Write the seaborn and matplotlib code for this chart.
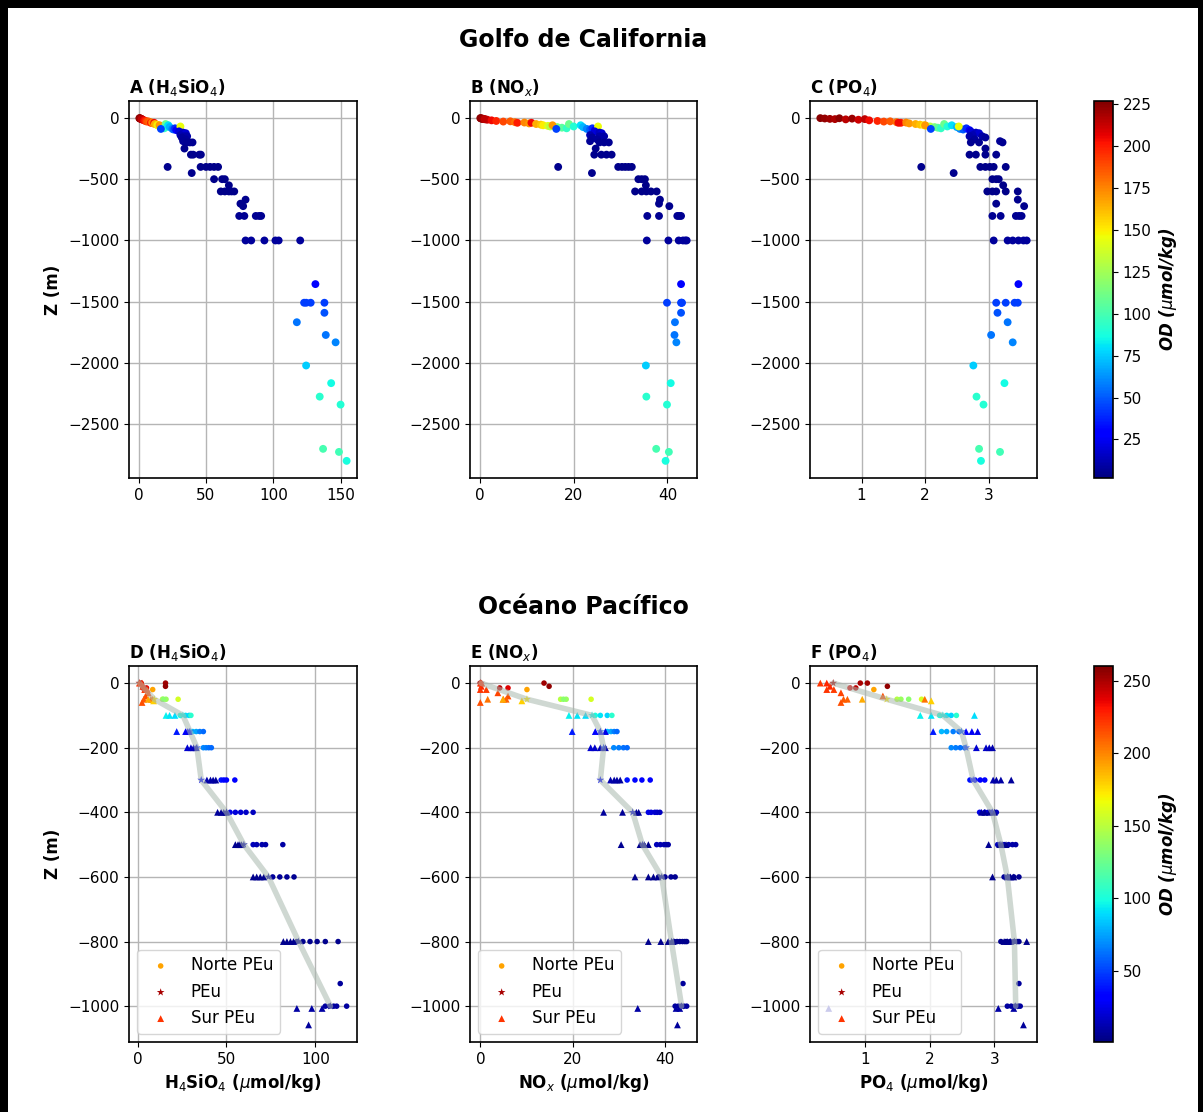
import matplotlib
matplotlib.use("Agg")
import numpy as np
import pandas as pd
import matplotlib.pyplot as plt
import seaborn as sns
from matplotlib.colors import Normalize
from matplotlib.cm import ScalarMappable
from matplotlib.lines import Line2D

# ---------------- Golfo de California ----------------
# surface layer
gs_z = [-2, -5, -8, -10, -3, -12, -6, -15, -10, -20, -25, -30, -28, -35, -40, -38, -45, -40,
        -50, -55, -60, -65, -70, -75, -80, -60, -85, -50, -70, -60, -75, -90, -95, -85, -100, -70, -90]
gs_od = [225, 222, 220, 218, 224, 215, 221, 212, 214, 205, 198, 190, 185, 180, 200, 175, 170, 205,
         165, 160, 150, 140, 130, 115, 105, 170, 95, 110, 90, 80, 70, 60, 50, 40, 30, 145, 45]
gs_si = [0.8, 1.2, 1.6, 2.0, 0.5, 2.5, 1.0, 3.0, 2.2, 4.0, 5.0, 6.0, 7.0, 8.5, 9.0, 10.0, 11.0, 11.5,
         12.0, 13.5, 14.0, 15.0, 16.0, 17.0, 18.0, 15.5, 19.0, 20.0, 21.0, 22.0, 23.0, 25.0, 26.0, 27.0, 28.0, 31.0, 16.5]
gs_nox = [0.1, 0.3, 0.5, 0.8, 0.2, 1.2, 0.6, 1.6, 1.0, 2.5, 3.5, 5.0, 6.5, 7.5, 8.0, 9.5, 10.5, 11.0,
          12.0, 13.0, 13.5, 14.5, 15.0, 16.5, 17.5, 15.5, 18.5, 19.0, 20.0, 21.5, 22.0, 22.8, 23.5, 24.0, 24.5, 25.2, 16.3]
gs_po4 = [0.35, 0.42, 0.50, 0.58, 0.65, 0.75, 0.85, 0.95, 1.05, 1.12, 1.25, 1.35, 1.45, 1.55, 1.62, 1.70, 1.75, 1.58,
          1.85, 1.92, 1.98, 2.02, 2.08, 2.15, 2.20, 2.00, 2.25, 2.30, 2.35, 2.42, 2.50, 2.55, 2.60, 2.65, 2.70, 2.53, 2.09]
# intermediate layer
gm_z = [-110, -120, -125, -140, -150, -150, -160, -175, -190, -200, -200, -200, -250,
        -300, -300, -300, -300, -400, -400, -400, -400, -400, -400, -450,
        -500, -500, -500, -550, -600, -600, -600, -600, -600, -667, -700, -720,
        -800, -800, -800, -800, -800, -1000, -1000, -1000, -1000, -1000, -1000]
gm_od = [20, 15, 18, 12, 10, 10, 8, 8, 7, 6, 6, 6, 5,
         5, 5, 5, 5, 5, 4, 4, 4, 4, 4, 5,
         4, 4, 4, 4, 4, 4, 4, 4, 4, 5, 5, 5,
         6, 6, 6, 6, 6, 8, 8, 8, 8, 8, 8]
gm_si = [30, 33, 35, 31, 34, 36, 32, 35, 33, 36, 38, 40, 34,
         38.8, 40.5, 46.2, 45, 21.5, 46, 50, 53, 56, 59, 39.4,
         56, 62, 64, 67, 61, 64, 67, 71, 69, 79.4, 75.6, 77.6,
         74.7, 78.5, 87, 89.5, 91, 79.4, 83.6, 93.4, 101.6, 104, 120]
gm_nox = [24.5, 25.5, 26.0, 23.5, 25.5, 26.5, 24.0, 25.0, 23.5, 25.5, 26.5, 27.5, 24.7,
          25.9, 27.0, 28.1, 24.4, 16.7, 29.5, 30.3, 31.0, 31.7, 32.4, 23.9,
          33.8, 34.5, 35.2, 35.4, 33.1, 34.5, 35.5, 36.5, 37.7, 38.4, 38.2, 40.4,
          35.7, 38.2, 42.1, 42.9, 42.5, 35.6, 40.2, 42.4, 43.3, 44.1, 43.8]
gm_po4 = [2.72, 2.80, 2.85, 2.75, 2.70, 2.90, 2.95, 2.78, 3.18, 2.85, 3.22, 2.72, 2.95,
          2.70, 2.80, 2.95, 3.12, 1.94, 2.87, 2.95, 3.02, 3.08, 3.27, 2.45,
          3.06, 3.12, 3.16, 3.23, 2.98, 3.06, 3.12, 3.27, 3.46, 3.46, 3.12, 3.56,
          3.06, 3.19, 3.43, 3.48, 3.52, 3.08, 3.30, 3.38, 3.47, 3.60, 3.55]
# deep layer
gd_z = [-1356, -1508, -1508, -1508, -1508, -1590, -1667, -1771, -1831, -2020, -2164, -2274, -2339, -2700, -2725, -2798]
gd_od = [30, 44, 44, 44, 44, 48, 56, 56, 60, 75, 86, 92, 90, 100, 98, 88]
gd_si = [131.3, 122.9, 124.5, 127.8, 138.0, 138.0, 117.5, 139.0, 146.3, 124.4, 143.0, 134.5, 150.0, 137.0, 148.8, 154.5]
gd_nox = [42.9, 39.9, 42.9, 43.0, 43.1, 42.9, 41.6, 41.5, 41.9, 35.4, 40.7, 35.5, 39.9, 37.6, 40.3, 39.6]
gd_po4 = [3.47, 3.12, 3.27, 3.41, 3.46, 3.14, 3.30, 3.04, 3.38, 2.76, 3.25, 2.81, 2.92, 2.85, 3.18, 2.88]

# ---------------- Oceano Pacifico ----------------
norte_z = [-20, 0, -10, -15, -15, 0, -50, -50, -50, -50,
           -100, -100, -100, -100, -150, -150, -150, -150, -200, -200, -200, -200,
           -300, -300, -300, -300, -400, -400, -400, -400, -400,
           -500, -500, -500, -500, -500, -600, -600, -600, -600,
           -800, -800, -800, -800, -800, -800, -930, -1000, -1000, -1000, -1000, -1000]
norte_od = [192, 252, 255, 246, 238, 250, 148, 140, 158, 135,
            100, 92, 88, 105, 80, 75, 65, 60, 68, 65, 62, 60,
            38, 35, 32, 30, 25, 22, 20, 18, 16,
            15, 13, 12, 11, 10, 8, 7, 7, 6,
            5, 5, 5, 5, 5, 5, 8, 9, 9, 9, 9, 9]
norte_si = [8.5, 15.7, 15.7, 3.0, 5.0, 2.0, 14.0, 16.0, 22.8, 14.5,
            24.0, 27.0, 29.0, 30.0, 31.0, 33.0, 35.0, 37.0, 37.0, 38.5, 40.0, 41.5,
            47.0, 48.5, 50.0, 54.7, 52.0, 55.0, 58.0, 61.0, 65.0,
            65.0, 67.0, 70.0, 72.0, 81.7, 76.0, 80.0, 84.0, 88.0,
            89.6, 93.0, 97.0, 101.0, 105.6, 112.8, 114.0, 105.6, 108.0, 110.3, 112.0, 117.6]
norte_nox = [10.1, 13.8, 14.9, 4.2, 6.0, 0.0, 17.4, 18.6, 24.0, 18.0,
             24.9, 26.0, 27.5, 28.5, 27.5, 28.3, 29.0, 29.6, 28.9, 30.0, 31.0, 31.8,
             31.8, 33.5, 35.0, 36.8, 36.4, 37.0, 37.8, 38.3, 38.9,
             38.2, 39.0, 39.8, 40.3, 40.7, 38.6, 40.0, 41.3, 42.2,
             42.0, 42.6, 43.2, 43.8, 44.3, 44.7, 43.9, 42.2, 42.9, 43.5, 44.1, 44.7]
norte_po4 = [1.13, 1.03, 1.34, 0.85, 0.76, 0.92, 1.49, 1.55, 1.87, 1.67,
             2.15, 2.26, 2.33, 2.41, 2.18, 2.26, 2.36, 2.45, 2.33, 2.40, 2.47, 2.54,
             2.62, 2.70, 2.78, 2.85, 2.77, 2.85, 2.90, 2.95, 3.03,
             3.05, 3.15, 3.22, 3.28, 3.33, 3.15, 3.22, 3.30, 3.38,
             3.10, 3.18, 3.24, 3.30, 3.35, 3.38, 3.38, 3.20, 3.26, 3.32, 3.37, 3.40]

peu_z = [0, -50, -100, -150, -200, -300, -400, -500, -600, -800, -1000]
peu_od = [250, 172, 95, 55, 45, 35, 20, 12, 8, 6, 8]
peu_si = [1.0, 9.4, 25.5, 29.5, 33.4, 35.8, 50.0, 59.8, 73.6, 90.6, 108.5]
peu_nox = [0.1, 10.1, 24.2, 26.0, 26.7, 26.0, 33.0, 35.1, 39.3, 41.4, 43.6]
peu_po4 = [0.50, 1.33, 2.20, 2.49, 2.56, 2.67, 2.97, 3.10, 3.20, 3.31, 3.33]

sur_z = [0, 0, -10, -20, -20, -30, -40, -50, -50, -60, -50, -50, -55,
         -100, -100, -100, -150, -150, -150, -150, -200, -200, -200, -200,
         -300, -300, -300, -300, -400, -400, -400, -400, -500, -500, -500, -500,
         -600, -600, -600, -600, -800, -800, -800, -800, -1007, -1007, -1007, -1058]
sur_od = [222, 226, 225, 222, 220, 218, 215, 212, 210, 215, 205, 190, 180,
          95, 92, 90, 40, 30, 28, 25, 20, 18, 15, 12,
          12, 10, 10, 8, 8, 7, 7, 6, 6, 5, 5, 5,
          5, 5, 5, 5, 5, 5, 5, 5, 10, 10, 10, 8]
sur_si = [1.0, 2.5, 3.0, 4.0, 5.5, 6.0, 4.5, 3.5, 7.5, 2.5, 8.5, 6.0, 9.0,
          16.0, 18.0, 21.0, 22.0, 27.0, 28.0, 29.0, 28.0, 30.0, 31.5, 33.0,
          39.0, 41.0, 42.5, 44.0, 45.0, 47.0, 48.5, 50.0, 55.0, 56.5, 57.5, 58.5,
          65.0, 67.0, 69.0, 71.0, 82.0, 84.0, 86.0, 87.7, 89.6, 98.0, 103.8, 96.2]
sur_nox = [0.0, 0.3, 0.2, 0.0, 1.3, 3.8, 6.0, 5.0, 5.6, 0.0, 1.6, 4.9, 9.0,
           19.2, 21.0, 22.8, 19.9, 24.9, 26.0, 27.1, 23.9, 24.8, 26.0, 27.1,
           28.2, 29.0, 29.6, 30.3, 26.7, 30.8, 33.8, 34.3, 30.5, 34.6, 35.5, 36.4,
           33.5, 36.4, 37.5, 38.5, 36.4, 39.1, 40.7, 41.8, 34.1, 42.4, 43.2, 42.7]
sur_po4 = [0.30, 0.40, 0.45, 0.40, 0.51, 0.62, 1.27, 0.66, 0.72, 0.62, 1.92, 0.95, 2.02,
           1.85, 2.02, 2.69, 2.05, 2.56, 2.65, 2.74, 2.72, 2.87, 2.92, 2.97,
           2.98, 3.03, 3.10, 3.26, 2.80, 2.85, 2.92, 3.00, 2.91, 3.08, 3.12, 3.18,
           2.97, 3.20, 3.25, 3.30, 3.15, 3.20, 3.25, 3.50, 0.43, 3.06, 3.30, 3.45]

variables = ["Si", "NOx", "PO4"]
top_titles = ["A (H$_4$SiO$_4$)", "B (NO$_x$)", "C (PO$_4$)"]
bot_titles = ["D (H$_4$SiO$_4$)", "E (NO$_x$)", "F (PO$_4$)"]
xlabels = ["H$_4$SiO$_4$ ($\\mu$mol/kg)", "NO$_x$ ($\\mu$mol/kg)", "PO$_4$ ($\\mu$mol/kg)"]
group_names = ["Norte PEu", "PEu", "Sur PEu"]
od_range_gulf = (2, 227)
od_range_pac = (1, 260)
cbar_ticks_gulf = [25, 50, 75, 100, 125, 150, 175, 200, 225]
cbar_ticks_pac = [50, 100, 150, 200, 250]

gulf = pd.DataFrame({
    "Z": gs_z + gm_z + gd_z,
    "OD": gs_od + gm_od + gd_od,
    "Si": gs_si + gm_si + gd_si,
    "NOx": gs_nox + gm_nox + gd_nox,
    "PO4": gs_po4 + gm_po4 + gd_po4,
})
norte = pd.DataFrame({"Z": norte_z, "OD": norte_od, "Si": norte_si, "NOx": norte_nox, "PO4": norte_po4})
peu = pd.DataFrame({"Z": peu_z, "OD": peu_od, "Si": peu_si, "NOx": peu_nox, "PO4": peu_po4})
sur = pd.DataFrame({"Z": sur_z, "OD": sur_od, "Si": sur_si, "NOx": sur_nox, "PO4": sur_po4})

jet = matplotlib.colormaps["jet"]

# ---------------- style ----------------
sns.set_style("ticks")
plt.rcParams["font.family"] = ["DejaVu Sans"]
plt.rcParams["axes.edgecolor"] = "black"
plt.rcParams["axes.linewidth"] = 1.2
plt.rcParams["text.color"] = "black"
plt.rcParams["axes.labelcolor"] = "black"
plt.rcParams["xtick.color"] = "black"
plt.rcParams["ytick.color"] = "black"
plt.rcParams["xtick.labelsize"] = 11
plt.rcParams["ytick.labelsize"] = 11

W, H = 1203, 1112
fig = plt.figure(figsize=(W / 100, H / 100), dpi=100)
fig.patch.set_facecolor("white")


def pos(l, t, r, b):
    return [l / W, 1 - b / H, (r - l) / W, (b - t) / H]


cols = [(129, 357), (470, 697), (810, 1037)]
top_axes = [fig.add_axes(pos(l, 101, r, 478)) for l, r in cols]
bot_axes = [fig.add_axes(pos(l, 666, r, 1042)) for l, r in cols]
cax_top = fig.add_axes(pos(1094, 101, 1113, 478))
cax_bot = fig.add_axes(pos(1094, 666, 1113, 1042))

grid_kw = dict(color="#b5b5b5", lw=1.0)

# top row
for ax, var, title in zip(top_axes, variables, top_titles):
    sns.scatterplot(data=gulf, x=var, y="Z", hue="OD", palette=jet,
                    hue_norm=od_range_gulf, s=32, linewidth=0, legend=False, ax=ax)
    ax.grid(True, **grid_kw)
    ax.set_axisbelow(True)
    ax.set_xlabel("")
    ax.set_ylabel("")
    ax.set_title(title, loc="left", fontweight="bold", fontsize=12)
top_axes[0].set_ylabel("Z (m)", fontweight="bold", fontsize=12)

# bottom row
markers = {"Norte PEu": ("o", 16), "PEu": ("*", 34), "Sur PEu": ("^", 24)}
for ax, var, title, xl in zip(bot_axes, variables, bot_titles, xlabels):
    handles = []
    for name, df in zip(group_names, [norte, peu, sur]):
        mk, sz = markers[name]
        sns.scatterplot(data=df, x=var, y="Z", hue="OD", palette=jet,
                        hue_norm=od_range_pac, marker=mk, s=sz, linewidth=0,
                        legend=False, ax=ax)
        coll = ax.collections[-1]
        coll.set_label(name)
        handles.append(coll)
    sns.lineplot(x=peu[var], y=peu["Z"], sort=False, estimator=None,
                 color="#a9b8ae", alpha=0.55, lw=4, ax=ax)
    ax.grid(True, **grid_kw)
    ax.set_axisbelow(True)
    ax.set_ylabel("")
    ax.set_xlabel(xl, fontweight="bold", fontsize=12)
    ax.set_title(title, loc="left", fontweight="bold", fontsize=12)
    ax.legend(handles=handles, labels=group_names, loc="lower left", fontsize=12)
bot_axes[0].set_ylabel("Z (m)", fontweight="bold", fontsize=12)

# colorbars
for cax, rng, ticks in [(cax_top, od_range_gulf, cbar_ticks_gulf), (cax_bot, od_range_pac, cbar_ticks_pac)]:
    sm = ScalarMappable(norm=Normalize(*rng), cmap=jet)
    cb = fig.colorbar(sm, cax=cax, ticks=ticks)
    cb.ax.tick_params(labelsize=11)
    cb.outline.set_edgecolor("black")
    cb.set_label("OD ($\\mu$mol/kg)", fontweight="bold", fontstyle="italic", fontsize=12)

fig.text(583.5 / W, 1 - 40 / H, "Golfo de California", ha="center", va="center",
         fontsize=17, fontweight="bold")
fig.text(583.5 / W, 1 - 607 / H, "Océano Pacífico", ha="center", va="center",
         fontsize=17, fontweight="bold")

# black frame
fig.add_artist(Line2D([4 / W, 4 / W], [0, 1], transform=fig.transFigure, color="black", lw=8 * 0.72))
fig.add_artist(Line2D([0, 1], [1 - 4 / H, 1 - 4 / H], transform=fig.transFigure, color="black", lw=8 * 0.72))
fig.add_artist(Line2D([1 - 3 / W, 1 - 3 / W], [0, 1], transform=fig.transFigure, color="black", lw=5 * 0.72))

fig.savefig("out.png", dpi=100)
